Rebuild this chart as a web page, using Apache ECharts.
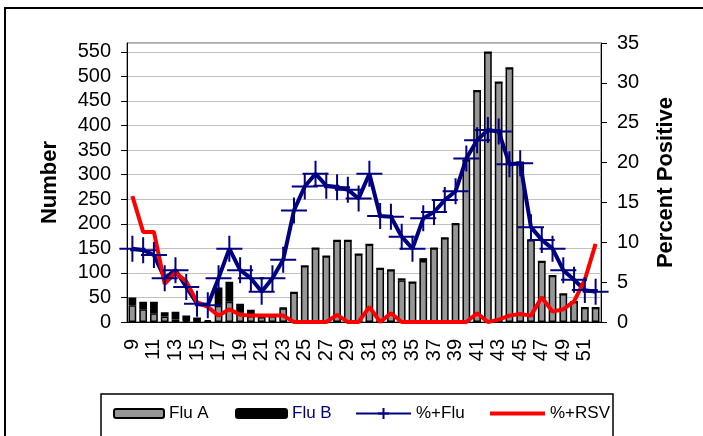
<!DOCTYPE html>
<html>
<head>
<meta charset="utf-8">
<script src="https://cdn.jsdelivr.net/npm/echarts@6/dist/echarts.min.js"></script>
<style>
html,body{margin:0;padding:0;background:#fff}
#chart{width:703px;height:436px}
</style>
</head>
<body>
<div id="chart"></div>
<script>
var weeks = ['9','10','11','12','13','14','15','16','17','18','19','20','21','22','23','24','25','26','27','28','29','30',
             '31','32','33','34','35','36','37','38','39','40','41','42','43','44','45','46','47','48','49','50','51','52'];

var fluA = [34,26,18,11,5,2,1,1,33,41,20,12,10,12,28,60,114,150,134,166,166,138,
            158,109,106,85,81,124,150,171,200,330,471,549,488,517,325,167,123,94,57,41,29,29];

var fluB = [16,15,23,9,16,11,8,3,37,41,17,13,4,2,1,0,0,0,0,0,0,0,
            0,0,0,4,0,6,0,0,0,0,0,0,0,0,0,0,0,0,0,0,0,0];

var pctFlu = [9.2,9.0,8.4,5.5,6.5,4.4,2.3,2.1,5.5,9.2,6.5,5.5,3.8,5.5,7.8,14.0,17.0,18.6,17.1,16.9,16.6,15.5,
              18.6,13.3,13.2,10.7,9.2,13.0,13.8,15.3,16.4,20.5,22.8,24.1,23.9,19.8,19.9,11.9,10.3,9.2,6.5,5.3,4.0,3.8];

var pctRSV = [15.8,11.3,11.3,4.8,6.2,5.1,2.5,1.9,0.8,1.6,0.9,0.8,0.8,0.8,0.8,0,0,0,0,0.9,0,0,
              1.9,0,1.1,0,0,0,0,0,0,0,1.1,0,0.3,0.8,1.0,0.8,3.1,1.3,1.6,2.6,5.3,9.8];

var FONT = '"Liberation Sans", Arial, sans-serif';
var plus = 'path://M0,13 L26,13 M13,0 L13,26';

var myChart = echarts.init(document.getElementById('chart'));

var option = {
    animation: false,
    backgroundColor: '#fff',
    textStyle: {fontFamily: FONT, color: '#000'},
    grid: {left: 127, right: 102, top: 43, bottom: 114, show: true, borderColor: '#555', borderWidth: 1},
    legend: [
        {data: ['Flu A'], left: 113, top: 405, padding: 0, itemWidth: 50, itemHeight: 9,
         textStyle: {fontSize: 17, fontFamily: FONT, color: '#000'}},
        {data: [{name: 'Flu B', textStyle: {color: '#000080'}}], left: 235, top: 405, padding: 0, itemWidth: 51, itemHeight: 9,
         textStyle: {fontSize: 17, fontFamily: FONT}},
        {data: ['%+Flu'], left: 355, top: 405, padding: 0, itemWidth: 55, itemHeight: 14,
         textStyle: {fontSize: 17, fontFamily: FONT, color: '#000'}},
        {data: [{name: '%+RSV', icon: 'rect'}], left: 490, top: 405, padding: 0, itemWidth: 55, itemHeight: 4,
         textStyle: {fontSize: 17, fontFamily: FONT, color: '#000'}}
    ],
    graphic: [
        {type: 'rect', shape: {x: 5, y: 8, width: 720, height: 460}, style: {fill: 'none', stroke: '#000', lineWidth: 2}, silent: true},
        {type: 'rect', shape: {x: 101, y: 394, width: 512, height: 60}, style: {fill: 'none', stroke: '#000', lineWidth: 1.5}, silent: true}
    ],
    xAxis: {
        type: 'category',
        data: weeks,
        axisLine: {lineStyle: {color: '#000', width: 1}},
        axisTick: {interval: 0, length: 6, lineStyle: {color: '#000'}},
        axisLabel: {interval: 1, rotate: 90, fontSize: 20, color: '#000', margin: 17, fontFamily: FONT}
    },
    yAxis: [
        {
            type: 'value', min: 0, max: 568, interval: 50,
            name: 'Number', nameLocation: 'middle', nameRotate: 90, nameGap: 66,
            nameTextStyle: {fontSize: 22, fontWeight: 'bold', color: '#000', fontFamily: FONT},
            axisLine: {show: true, lineStyle: {color: '#000'}},
            axisTick: {show: true, length: 6, lineStyle: {color: '#000'}},
            axisLabel: {fontSize: 20, color: '#000', margin: 16, fontFamily: FONT, showMaxLabel: false},
            splitLine: {lineStyle: {color: '#c0c0c0', width: 1}}
        },
        {
            type: 'value', min: 0, max: 35, interval: 5, position: 'right',
            name: 'Percent Positive', nameLocation: 'middle', nameRotate: 90, nameGap: 54,
            nameTextStyle: {fontSize: 22, fontWeight: 'bold', color: '#000', fontFamily: FONT},
            axisLine: {show: true, lineStyle: {color: '#000'}},
            axisTick: {show: true, length: 6, lineStyle: {color: '#000'}},
            axisLabel: {fontSize: 20, color: '#000', margin: 16, fontFamily: FONT},
            splitLine: {show: false}
        }
    ],
    series: [
        {
            name: 'Flu A', type: 'bar', stack: 'flu', data: fluA, barCategoryGap: '28%',
            itemStyle: {color: '#969696', borderColor: '#000', borderWidth: 1.5}
        },
        {
            name: 'Flu B', type: 'bar', stack: 'flu', data: fluB,
            itemStyle: {color: '#000', borderColor: '#000', borderWidth: 1.5}
        },
        {
            name: '%+Flu', type: 'line', yAxisIndex: 1, data: pctFlu,
            symbol: plus, symbolSize: 26, showAllSymbol: true,
            lineStyle: {color: '#000080', width: 4},
            itemStyle: {color: '#000080', borderColor: '#000080', borderWidth: 2}
        },
        {
            name: '%+RSV', type: 'line', yAxisIndex: 1, data: pctRSV,
            symbol: 'none',
            lineStyle: {color: '#ff0000', width: 4},
            itemStyle: {color: '#ff0000'}
        }
    ]
};

myChart.setOption(option);
</script>
</body>
</html>
